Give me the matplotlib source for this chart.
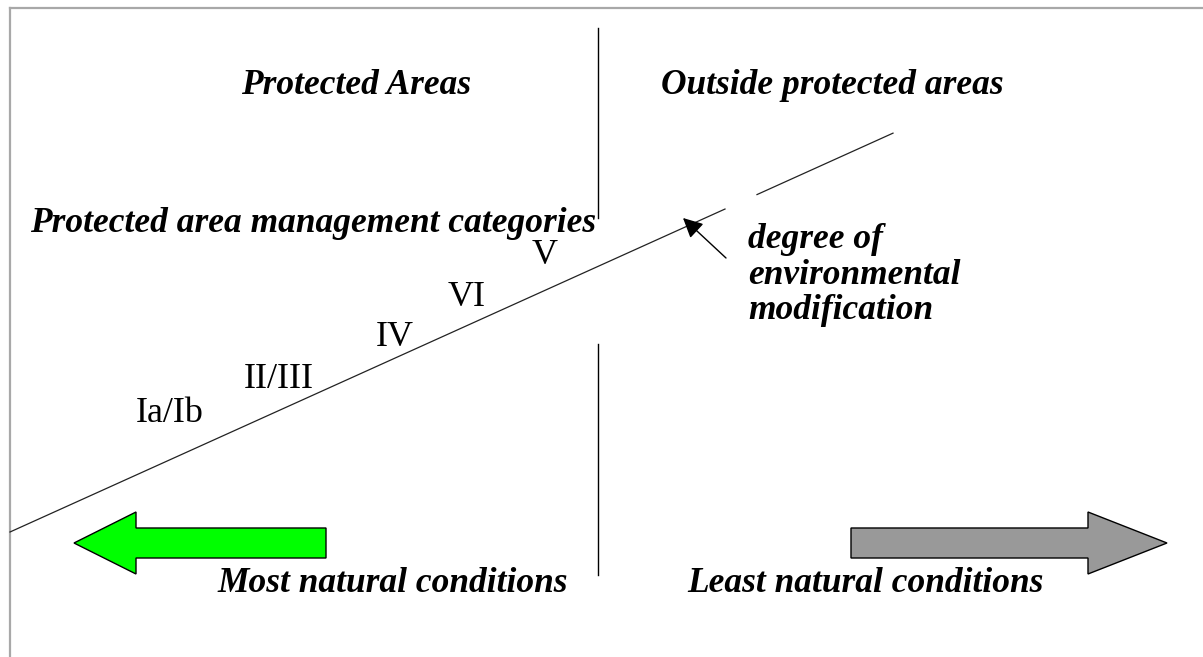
import matplotlib.pyplot as plt
from matplotlib.patches import Polygon

# labels of the diagram
region_titles = ['Protected Areas', 'Outside protected areas']
axis_title = 'Protected area management categories'
categories = ['Ia/Ib', 'II/III', 'IV', 'VI', 'V']
modification_label = 'degree of\nenvironmental\nmodification'
end_labels = ['Most natural conditions', 'Least natural conditions']

W, H = 1203, 657
fig = plt.figure(figsize=(W / 100, H / 100), dpi=100)
ax = fig.add_axes([0, 0, 1, 1])
ax.set_xlim(0, W)
ax.set_ylim(H, 0)
ax.axis('off')

serif_bi = dict(family='Liberation Serif', weight='bold', style='italic', fontsize=25.5)
serif = dict(family='Liberation Serif', fontsize=26)

# frame (gray, only top and left visible)
ax.plot([10, W], [8, 8], color='#a8a8a8', lw=1.6)
ax.plot([10, 10], [8, H], color='#a8a8a8', lw=1.6)

# vertical divider
ax.plot([598, 598], [28, 218], color='black', lw=1.0)
ax.plot([598, 598], [344, 575], color='black', lw=1.0)

# line of environmental modification (with a small gap)
def line_y(x):
    return 532 - 0.4517 * (x - 10)

ax.plot([10, 725], [line_y(10), line_y(725)], color='#222222', lw=0.9)
ax.plot([757, 893], [line_y(757), line_y(893)], color='#222222', lw=0.9)

# pointer arrow
ax.annotate('', xy=(683, 218), xytext=(726, 258),
            arrowprops=dict(arrowstyle='-|>', color='black', lw=1.0,
                            mutation_scale=30, shrinkA=0, shrinkB=0))

# texts
ax.text(356, 85, region_titles[0], ha='center', va='center', **serif_bi)
ax.text(832, 85, region_titles[1], ha='center', va='center', **serif_bi)
ax.text(313, 223, axis_title, ha='center', va='center', **serif_bi)
ax.text(748, 275, modification_label, ha='left', va='center', linespacing=1.1, **serif_bi)
ax.text(393, 583, end_labels[0], ha='center', va='center', **serif_bi)
ax.text(865, 583, end_labels[1], ha='center', va='center', **serif_bi)

cat_x = [170, 279, 395, 467, 545]
cat_y = [413, 379, 338, 298, 255]
for lab, x, y in zip(categories, cat_x, cat_y):
    ax.text(x, y, lab, ha='center', va='center', **serif)

# big arrows
def block_arrow(tail, head, yc, body_h=30, head_h=62, head_len=78, color='gray'):
    d = 1 if head > tail else -1
    base = head - d * head_len
    pts = [(tail, yc - body_h / 2), (base, yc - body_h / 2), (base, yc - head_h / 2),
           (head, yc), (base, yc + head_h / 2), (base, yc + body_h / 2),
           (tail, yc + body_h / 2)]
    ax.add_patch(Polygon(pts, closed=True, facecolor=color, edgecolor='black', lw=1.0))

block_arrow(326, 74, 543, head_len=62, color='#00ff00')
block_arrow(851, 1167, 543, head_len=79, color='#999999')

fig.savefig('out.png', dpi=100)
